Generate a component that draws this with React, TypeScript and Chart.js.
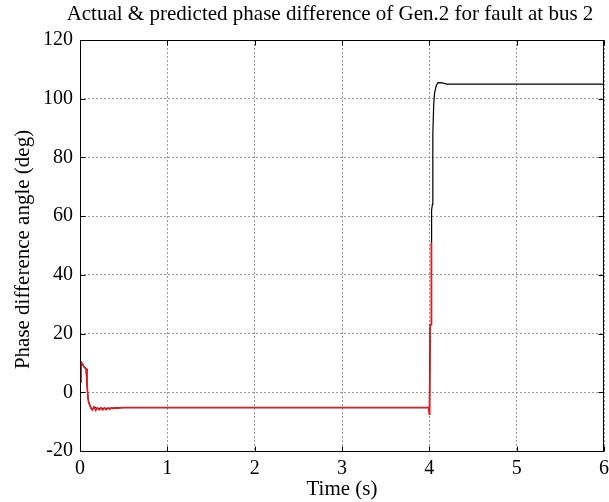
import React, { useEffect, useRef } from "react";
import { Chart, registerables } from "chart.js";

Chart.register(...registerables);

const TITLE = "Actual & predicted phase difference of Gen.2 for fault at bus 2";
const X_TITLE = "Time (s)";
const Y_TITLE = "Phase difference angle (deg)";

const X_TICKS = [0, 1, 2, 3, 4, 5, 6];
const Y_TICKS = [-20, 0, 20, 40, 60, 80, 100, 120];

// Predicted (red)
const predT = [0, 0.01, 0.02, 0.03, 0.05, 0.07, 0.08, 0.09, 0.1, 0.12, 0.14, 0.16, 0.18, 0.2, 0.22, 0.24, 0.26, 0.28, 0.3, 0.32, 0.34, 0.36, 0.38, 0.4, 0.42, 0.45, 0.5, 1.0, 2.0, 3.0, 3.99, 4.0, 4.005, 4.01, 4.02, 4.022];
const predY = [3.5, 8, 10, 9.5, 8.5, 8, 3, -1.5, -3.5, -5, -6, -5, -6.2, -5.4, -6, -5.3, -6, -5.3, -5.9, -5.4, -5.8, -5.3, -5.6, -5.3, -5.5, -5.3, -5.2, -5.2, -5.2, -5.2, -5.2, -7.5, -6, 23, 23, 51];

// Actual (black)
const actT = [0, 0.01, 0.02, 0.03, 0.05, 0.07, 0.08, 0.09, 0.1, 0.12, 0.14, 0.16, 0.2, 0.3, 0.5, 1.0, 2.0, 3.0, 4.0, 4.01, 4.02, 4.022, 4.03, 4.035, 4.04, 4.05, 4.06, 4.08, 4.1, 4.15, 4.2, 5.0, 6.0];
const actY = [3.5, 8, 10, 9.5, 8.5, 8, 3, -1.5, -3.5, -5, -6, -5, -5.5, -5.5, -5.2, -5.2, -5.2, -5.2, -5.2, 23, 23, 51, 62, 64, 88, 98, 102, 104.5, 105.5, 105.4, 105, 105, 105];

const FONT = "'Liberation Serif', 'Times New Roman', serif";

const boxPlugin = {
  id: "boxPlugin",
  afterDraw(chart: any) {
    const { ctx, chartArea: a, scales } = chart;
    ctx.save();
    ctx.strokeStyle = "#000";
    ctx.lineWidth = 1;
    const l = Math.round(a.left) + 0.5;
    const t = Math.round(a.top) + 0.5;
    const r = Math.round(a.right) - 0.5;
    const b = Math.round(a.bottom) + 0.5;
    ctx.strokeRect(l, t, r - l, b - t);
    const tl = 5;
    ctx.beginPath();
    X_TICKS.forEach((v) => {
      const x = Math.round(scales.x.getPixelForValue(v)) + 0.5;
      ctx.moveTo(x, b);
      ctx.lineTo(x, b - tl);
      ctx.moveTo(x, t);
      ctx.lineTo(x, t + tl);
    });
    Y_TICKS.forEach((v) => {
      const y = Math.round(scales.y.getPixelForValue(v)) + 0.5;
      ctx.moveTo(l, y);
      ctx.lineTo(l + tl, y);
      ctx.moveTo(r, y);
      ctx.lineTo(r - tl, y);
    });
    ctx.stroke();
    ctx.fillStyle = "#000";
    ctx.font = `21px ${FONT}`;
    ctx.textAlign = "center";
    ctx.textBaseline = "middle";
    ctx.fillText(TITLE, 330, 14);
    ctx.fillText(X_TITLE, (a.left + a.right) / 2, 489);
    ctx.translate(23, (a.top + a.bottom) / 2 + 4);
    ctx.rotate(-Math.PI / 2);
    ctx.fillText(Y_TITLE, 0, 0);
    ctx.restore();
  },
};

export default function App() {
  const ref = useRef<HTMLCanvasElement>(null);
  useEffect(() => {
    document.body.style.margin = "0";
    const chart = new Chart(ref.current!, {
      type: "line",
      data: {
        datasets: [
          {
            label: "Predicted",
            data: predT.map((t, i) => ({ x: t, y: predY[i] })),
            borderColor: "#e8191f",
            borderWidth: 1.6,
            pointRadius: 0,
            tension: 0,
          },
          {
            label: "Actual",
            data: actT.map((t, i) => ({ x: t, y: actY[i] })),
            borderColor: "#000",
            borderWidth: 1.2,
            pointRadius: 0,
            tension: 0,
          },
        ],
      },
      plugins: [boxPlugin],
      options: {
        animation: false,
        responsive: false,
        layout: { padding: { top: 40, right: 5, left: 0, bottom: 0 } },
        plugins: { legend: { display: false }, tooltip: { enabled: false } },
        scales: {
          x: {
            type: "linear",
            min: 0,
            max: 6,
            afterBuildTicks: (s: any) => {
              s.ticks = X_TICKS.map((v) => ({ value: v }));
            },
            afterFit: (s: any) => {
              s.height = 51;
              s.paddingLeft = 0;
              s.paddingRight = 0;
            },
            grid: { color: "#9a9a9a", drawTicks: false, lineWidth: 1 },
            border: { display: false, dash: [2, 2] },
            ticks: { color: "#000", font: { family: FONT, size: 20 }, padding: 6, maxRotation: 0 },
          },
          y: {
            type: "linear",
            min: -20,
            max: 120,
            afterBuildTicks: (s: any) => {
              s.ticks = Y_TICKS.map((v) => ({ value: v }));
            },
            afterFit: (s: any) => {
              s.width = 80;
              s.paddingTop = 0;
              s.paddingBottom = 0;
            },
            grid: { color: "#9a9a9a", drawTicks: false, lineWidth: 1 },
            border: { display: false, dash: [2, 2] },
            ticks: { color: "#000", font: { family: FONT, size: 20 }, padding: 7 },
          },
        },
      },
    });
    return () => chart.destroy();
  }, []);
  return (
    <div style={{ position: "absolute", left: 0, top: 0, width: 609, height: 502, background: "#fff" }}>
      <canvas ref={ref} width={609} height={502} />
    </div>
  );
}
